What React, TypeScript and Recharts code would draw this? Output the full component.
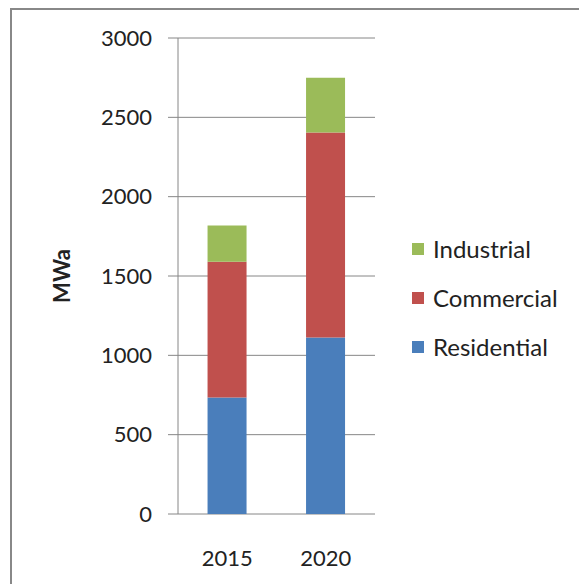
import React from 'react';
import { BarChart, Bar, XAxis, YAxis, CartesianGrid, Label } from 'recharts';

const years = ['2015', '2020'];
const residential = [735, 1113];
const commercial = [855, 1292];
const industrial = [228, 345];
const yTicks = [0, 500, 1000, 1500, 2000, 2500, 3000];

const data = years.map((year, i) => ({
  year,
  Residential: residential[i],
  Commercial: commercial[i],
  Industrial: industrial[i],
}));

const legendItems = [
  { name: 'Industrial', color: '#9BBB59' },
  { name: 'Commercial', color: '#C0504D' },
  { name: 'Residential', color: '#4A7EBB' },
];

const font = 'Lato, "Open Sans", sans-serif';
const axisGray = '#868686';

const ChartLegend = () => (
  <div style={{ position: 'absolute', left: 412, top: 224, fontFamily: font, fontSize: 24, color: '#222' }}>
    {legendItems.map((item) => (
      <div key={item.name} style={{ display: 'flex', alignItems: 'center', height: 49 }}>
        <div style={{ width: 12, height: 12, background: item.color, marginRight: 9 }} />
        <span>{item.name}</span>
      </div>
    ))}
  </div>
);

const App: React.FC = () => {
  return (
    <div style={{ position: 'absolute', left: 0, top: 0, width: 579, height: 584, background: '#fff' }}>
      <div
        style={{
          position: 'absolute',
          left: 10,
          top: 8,
          width: 569,
          height: 576,
          borderLeft: '2px solid #888',
          borderTop: '2px solid #888',
          boxSizing: 'border-box',
        }}
      />
      <BarChart
        width={579}
        height={584}
        data={data}
        margin={{ top: 38, right: 204, bottom: 0, left: 0 }}
        barCategoryGap="30%"
        style={{ position: 'absolute', left: 0, top: 0 }}
      >
        <CartesianGrid vertical={false} stroke={axisGray} xAxisId="cat" />
        <XAxis
          xAxisId="edge"
          type="number"
          domain={[0, 2]}
          ticks={[0, 1, 2]}
          height={0}
          stroke={axisGray}
          tickSize={8}
          tickFormatter={() => ''}
        />
        <XAxis
          xAxisId="cat"
          dataKey="year"
          height={70}
          axisLine={false}
          tickLine={false}
          tickMargin={30}
          tick={{ fontFamily: font, fontSize: 22, fill: '#222' }}
        />
        <YAxis
          width={178}
          domain={[0, 3000]}
          ticks={yTicks}
          stroke={axisGray}
          tickSize={10}
          tickMargin={16}
          tick={{ fontFamily: font, fontSize: 22, fill: '#222' }}
        >
          <Label
            value="MWa"
            angle={-90}
            position="insideLeft"
            offset={62}
            style={{ fontFamily: font, fontSize: 22, fontWeight: 'bold', fill: '#222', textAnchor: 'middle' }}
          />
        </YAxis>
        <Bar xAxisId="cat" dataKey="Residential" stackId="a" fill="#4A7EBB" isAnimationActive={false} />
        <Bar xAxisId="cat" dataKey="Commercial" stackId="a" fill="#C0504D" isAnimationActive={false} />
        <Bar xAxisId="cat" dataKey="Industrial" stackId="a" fill="#9BBB59" isAnimationActive={false} />
      </BarChart>
      <ChartLegend />
    </div>
  );
};

export default App;
